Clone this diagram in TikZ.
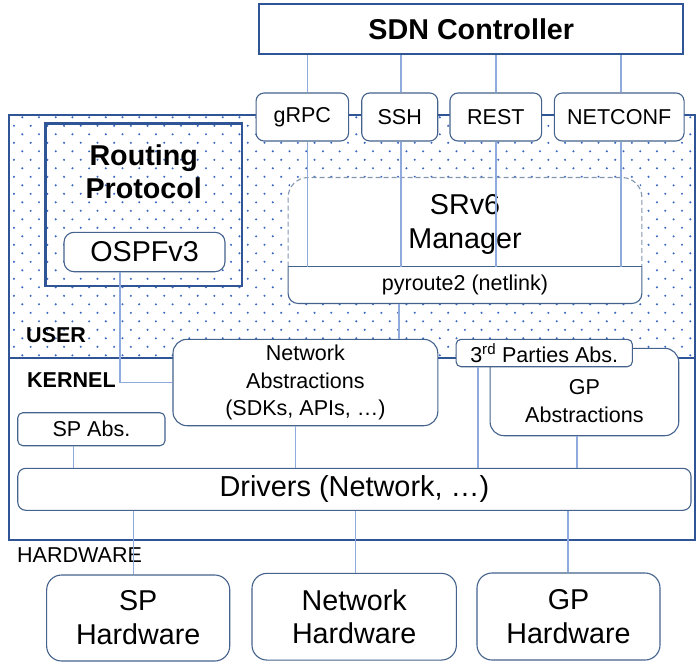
\documentclass[tikz,border=0pt]{standalone}
\usepackage{fontspec}
\setmainfont{Liberation Sans}
\usetikzlibrary{positioning,calc}
\definecolor{darkblue}{RGB}{47,85,151}
\definecolor{boxline}{RGB}{68,98,140}
\definecolor{dashline}{RGB}{132,151,176}
\definecolor{linkblue}{RGB}{143,170,220}
\definecolor{dotblue}{RGB}{60,105,190}
\newcommand\smalltxt{\fontsize{21.6}{27.5}\selectfont}
\newcommand\bigtxt{\fontsize{28.8}{34}\selectfont}
\tikzset{
  frame/.style={draw=darkblue, line width=2.6bp},
  ctrlbox/.style={rectangle, draw=darkblue, line width=2bp, fill=white, inner sep=0pt, font=\bigtxt\bfseries},
  routebox/.style={rectangle, draw=darkblue, line width=2.4bp, inner sep=0pt},
  iface/.style={rectangle, rounded corners=8bp, draw=boxline, line width=1.1bp, fill=white, minimum height=48bp, inner sep=0pt, font=\smalltxt},
  absbox/.style={rectangle, rounded corners=14bp, draw=boxline, line width=1.1bp, fill=white, inner sep=0pt, align=center, font=\smalltxt},
  hwbox/.style={rectangle, rounded corners=15bp, draw=boxline, line width=1.1bp, fill=white, inner sep=0pt, align=center, font=\bigtxt},
  boxthin/.style={draw=boxline, line width=1.1bp},
  mgrdash/.style={draw=dashline, line width=1.1bp, dash pattern=on 5bp off 3bp},
  link/.style={draw=linkblue, line width=1.4bp},
  layerlabel/.style={anchor=west, inner sep=0pt, font=\smalltxt\bfseries},
  bigbold/.style={inner sep=0pt, align=center, font=\bigtxt\bfseries},
  plain/.style={inner sep=0pt, align=center}
}

\begin{document}
\begin{tikzpicture}[x=1bp,y=-1bp]
  \useasboundingbox (0,0) rectangle (697,668);
  % dotted user space
  \begin{scope}
    \clip (9,115) rectangle (695,358);
    \foreach \j in {0,...,28}{
      \pgfmathsetmacro\rowx{22.3-8.35*mod(\j,2)}
      \foreach \i in {-1,...,41}
        \fill[dotblue] (\rowx+16.7*\i,117.3+8.5*\j) circle (1.15);
    }
  \end{scope}
  \draw[frame] (9,115) rectangle (695,540);
  \draw[frame] (9,358) -- (695,358);

  % routing protocol
  \node[routebox, minimum width=196bp, minimum height=162.7bp] (routing) at (143.7,204.7) {};
  \node[bigbold] (routingtxt) at (143.7,171.7) {Routing\\Protocol};
  \node[iface, rounded corners=10bp, minimum width=161bp, minimum height=39.4bp, font=\bigtxt] (ospf) at (144.5,252) {OSPFv3};

  % SRv6 manager
  \node[minimum width=353.4bp, minimum height=125.6bp, fill=white, rounded corners=15bp, inner sep=0pt] (manager) at (465,240.5) {};
  \node[plain, minimum width=353.4bp, minimum height=36.6bp, font=\smalltxt] (pyroute) at (465,285) {pyroute2 (netlink)};
  \draw[mgrdash, rounded corners=20bp] (manager.west |- pyroute.north) |- (manager.north) -| (manager.east |- pyroute.north);
  \draw[boxthin, rounded corners=10bp] (pyroute.north west) -- (pyroute.south west) -- (pyroute.south east) -- (pyroute.north east);
  \draw[boxthin] (pyroute.north west) -- (pyroute.north east);
  \node[plain, font=\bigtxt] (mgrtxt) at (465,224.2) {SRv6\\Manager};

  % controller and interfaces
  \node[ctrlbox, minimum width=424bp, minimum height=50.3bp] (sdn) at (471.3,29.2) {SDN Controller};
  \node[iface, minimum width=92.5bp] (grpc) at (302.3,117) {gRPC};
  \node[iface, minimum width=76bp] (ssh) at (399.7,117) {SSH};
  \node[iface, minimum width=91.7bp] (rest) at (495.8,117) {REST};
  \node[iface, minimum width=129.7bp] (netconf) at (619.2,117) {NETCONF};

  % kernel
  \node[absbox, minimum width=264.8bp, minimum height=86.4bp] (netabs) at (305.4,382.5) {Network\\Abstractions\\(SDKs, APIs, …)};
  \node[absbox, minimum width=188.7bp, minimum height=87.4bp] (gp) at (584.4,392) {};
  \node[plain, font=\smalltxt] (gptxt) at (584.4,401) {GP\\Abstractions};
  \node[absbox, rounded corners=5bp, minimum width=176.3bp, minimum height=27.4bp] (third) at (544.2,353) {3\textsuperscript{rd} Parties Abs.};
  \node[absbox, rounded corners=5bp, minimum width=147.2bp, minimum height=33bp] (spabs) at (91.4,429.2) {SP Abs.};
  \node[absbox, rounded corners=8bp, minimum width=673.2bp, minimum height=42bp, font=\fontsize{29}{34}\selectfont] (drivers) at (354.4,489.3) {Drivers (Network, …)};

  % hardware
  \node[hwbox, minimum width=183.1bp, minimum height=86bp] (sphw) at (138.2,618) {SP\\Hardware};
  \node[hwbox, minimum width=204.4bp, minimum height=86.7bp] (nethw) at (354.2,616.7) {Network\\Hardware};
  \node[hwbox, minimum width=183bp, minimum height=87bp] (gphw) at (568.5,616.5) {GP\\Hardware};

  % layer labels
  \node[layerlabel] (user) at (26,335.5) {USER};
  \node[layerlabel] (kernel) at (27,380) {KERNEL};
  \node[layerlabel, font=\smalltxt] (hw) at (17,555) {HARDWARE};

  % connectors
  \coordinate (cgrpc) at (307.3,0);
  \coordinate (cssh) at (401,0);
  \coordinate (crest) at (496,0);
  \coordinate (cconf) at (621,0);
  \foreach \b/\c in {grpc/cgrpc, ssh/cssh, rest/crest, netconf/cconf}{
    \draw[link] (sdn.south -| \c) -- (\b.north -| \c);
    \draw[link] (\b.south -| \c) -- (pyroute.north -| \c);
  }
  \coordinate (cpy) at (399,0);
  \draw[link] (pyroute.south -| cpy) -- (netabs.north -| cpy);
  \coordinate (cospf) at (120,0);
  \draw[link] (ospf.south -| cospf) |- (netabs.west);
  \coordinate (csp) at (73.3,0);
  \coordinate (cnet) at (295.6,0);
  \coordinate (cthird) at (478,0);
  \coordinate (cgp) at (577,0);
  \foreach \b/\c in {spabs/csp, netabs/cnet, third/cthird, gp/cgp}
    \draw[link] (\b.south -| \c) -- (drivers.north -| \c);
  \coordinate (hsp) at (133.3,0);
  \coordinate (hnet) at (355.6,0);
  \coordinate (hgp) at (568,0);
  \foreach \b/\c in {sphw/hsp, nethw/hnet, gphw/hgp}
    \draw[link] (drivers.south -| \c) -- (\b.north -| \c);
\end{tikzpicture}
\end{document}
